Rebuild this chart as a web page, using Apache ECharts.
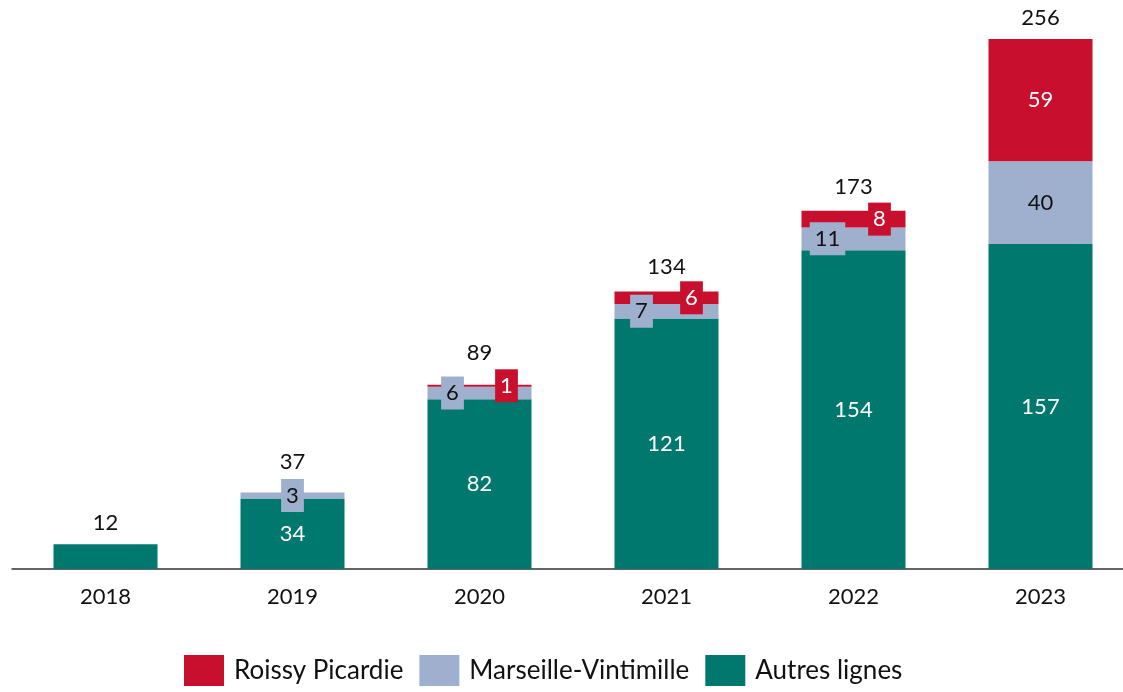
<!DOCTYPE html>
<html><head><meta charset="utf-8">
<script src="https://cdn.jsdelivr.net/npm/echarts@6/dist/echarts.min.js"></script>
<style>html,body{margin:0;padding:0;background:#fff;overflow:hidden}#c{width:1140px;height:692px}</style>
</head><body><div id="c"></div>
<script>
const years = ['2018','2019','2020','2021','2022','2023'];
const autres = [12, 34, 82, 121, 154, 157];
const marseille = [0, 3, 6, 7, 11, 40];
const roissy = [0, 0, 1, 6, 8, 59];
const totals = [12, 37, 89, 134, 173, 256];
const seriesNames = ['Roissy Picardie', 'Marseille-Vintimille', 'Autres lignes'];

const C_TEAL = '#00786E', C_BLUE = '#9EB0CE', C_RED = '#C8102E';
const FONT = 'Lato';
const FS = 22;

// label placement per category (style, not data)
const smallOffset = [0, 0, 27, 25, 26, 0];
const totalDist = [10, 19, 21, 14, 13, 10];
function isSmall(i){ return smallOffset[i] !== 0 || i === 1; }

function makeData(vals, color, textColor, side, hideFirst) {
  return vals.map((v, i) => {
    const d = { value: v };
    if (v === 0 || (hideFirst && i === 0)) {
      d.label = { show: false };
    } else if (isSmall(i) && i !== 5) {
      d.label = {
        show: true, position: 'inside',
        offset: [side * smallOffset[i], 0],
        backgroundColor: color, padding: [6, 5, 5, 5],
        color: textColor
      };
    }
    return d;
  });
}

const chart = echarts.init(document.getElementById('c'));
chart.setOption({
  animation: false,
  textStyle: { fontFamily: FONT },
  grid: { left: 12, width: 1122, top: 39, bottom: 123, containLabel: false },
  legend: {
    bottom: 1, left: 179,
    data: seriesNames,
    icon: 'rect', itemWidth: 40, itemHeight: 31, itemGap: 16,
    textStyle: { fontSize: 26, color: '#111', fontFamily: FONT, padding: [0, 0, 0, 5] }
  },
  xAxis: {
    type: 'category', data: years,
    axisLine: { lineStyle: { color: '#333', width: 1.5 } },
    axisTick: { show: false },
    axisLabel: { fontSize: FS, color: '#111', margin: 17, fontFamily: FONT }
  },
  yAxis: { type: 'value', min: 0, max: 256, show: false, splitLine: { show: false } },
  series: [
    {
      name: 'Autres lignes', type: 'bar', stack: 't', barWidth: 104,
      itemStyle: { color: C_TEAL },
      label: { show: true, position: 'inside', color: '#fff', fontSize: FS, fontFamily: FONT },
      data: makeData(autres, C_TEAL, '#fff', 0, true)
    },
    {
      name: 'Marseille-Vintimille', type: 'bar', stack: 't', barWidth: 104,
      itemStyle: { color: C_BLUE },
      label: { show: true, position: 'inside', color: '#111', fontSize: FS, fontFamily: FONT },
      data: makeData(marseille, C_BLUE, '#111', -1, false)
    },
    {
      name: 'Roissy Picardie', type: 'bar', stack: 't', barWidth: 104,
      itemStyle: { color: C_RED },
      label: { show: true, position: 'inside', color: '#fff', fontSize: FS, fontFamily: FONT },
      data: makeData(roissy, C_RED, '#fff', 1, false)
    },
    {
      name: 'Total', type: 'bar', stack: 't', barWidth: 104,
      itemStyle: { color: 'transparent' },
      label: {
        show: true, position: 'top', color: '#111', fontSize: FS, fontFamily: FONT,
        formatter: p => totals[p.dataIndex]
      },
      data: totals.map((t, i) => ({ value: 0, label: { distance: totalDist[i] } }))
    }
  ]
});
</script></body></html>
